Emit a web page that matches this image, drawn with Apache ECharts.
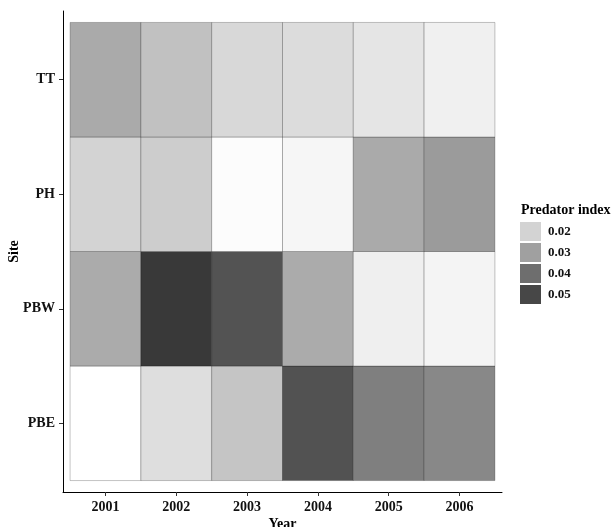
<!DOCTYPE html>
<html>
<head>
<meta charset="utf-8">
<script src="https://cdn.jsdelivr.net/npm/echarts@6/dist/echarts.min.js"></script>
<style>html,body{margin:0;padding:0;background:#fff;}#main{width:614px;height:527px;}</style>
</head>
<body>
<div id="main"></div>
<script>
var years = [2001, 2002, 2003, 2004, 2005, 2006];
var sites = ['PBE', 'PBW', 'PH', 'TT']; // bottom to top
var valTT  = [0.0280, 0.0235, 0.0189, 0.0180, 0.0159, 0.0134];
var valPH  = [0.0200, 0.0212, 0.0107, 0.0120, 0.0280, 0.0310];
var valPBW = [0.0278, 0.0536, 0.0469, 0.0278, 0.0136, 0.0125];
var valPBE = [0.0100, 0.0175, 0.0227, 0.0472, 0.0366, 0.0348];
var legendValues = [0.02, 0.03, 0.04, 0.05];
var legendColors = ['#d3d3d3', '#a0a0a0', '#6e6e6e', '#474747'];
var scaleStops = ['#ffffff', '#d3d3d3', '#a0a0a0', '#6e6e6e', '#474747', '#202020'];

var rows = { PBE: valPBE, PBW: valPBW, PH: valPH, TT: valTT };
var data = [];
sites.forEach(function (s, si) {
  rows[s].forEach(function (v, yi) {
    data.push([years[yi], si + 1, v]);
  });
});

var FONT = 'Liberation Serif';
var chart = echarts.init(document.getElementById('main'));
chart.setOption({
  backgroundColor: '#ffffff',
  animation: false,
  title: {
    text: 'Predator index',
    left: 521, top: 203,
    textStyle: { fontFamily: FONT, fontWeight: 'bold', fontSize: 14, color: '#000' },
    padding: 0
  },
  grid: { left: 63, top: 11, width: 439, height: 481, containLabel: false, outerBoundsMode: 'none' },
  xAxis: {
    type: 'value', min: 2000.4, max: 2006.6,
    name: 'Year', nameLocation: 'middle', nameGap: 25, nameMoveOverlap: false,
    nameTextStyle: { fontFamily: FONT, fontWeight: 'bold', fontSize: 14, color: '#000' },
    axisLine: { show: true, lineStyle: { color: '#000', width: 1 } },
    axisTick: { show: true, length: 4, customValues: years, lineStyle: { color: '#333' } },
    axisLabel: {
      customValues: years, margin: 8,
      fontFamily: FONT, fontWeight: 'bold', fontSize: 14, color: '#111',
      formatter: function (v) { return String(v); }
    },
    splitLine: { show: false }
  },
  yAxis: {
    type: 'value', min: 0.4, max: 4.6,
    name: 'Site', nameLocation: 'middle', nameGap: 42, nameRotate: 90, nameMoveOverlap: false,
    nameTextStyle: { fontFamily: FONT, fontWeight: 'bold', fontSize: 14, color: '#000' },
    axisLine: { show: true, lineStyle: { color: '#000', width: 1 } },
    axisTick: { show: true, length: 4, customValues: [1, 2, 3, 4], lineStyle: { color: '#333' } },
    axisLabel: {
      customValues: [1, 2, 3, 4], margin: 8,
      fontFamily: FONT, fontWeight: 'bold', fontSize: 14, color: '#111',
      formatter: function (v) { return sites[Math.round(v) - 1] || ''; }
    },
    splitLine: { show: false }
  },
  visualMap: [
    {
      type: 'continuous', show: false, seriesIndex: 0, dimension: 2,
      min: 0.01, max: 0.06,
      inRange: { color: scaleStops }
    },
    {
      type: 'piecewise', seriesIndex: 1, orient: 'vertical',
      left: 520, top: 222, align: 'left', inverse: true,
      itemWidth: 21, itemHeight: 19, itemGap: 2, textGap: 7,
      itemSymbol: 'rect',
      pieces: legendValues.map(function (v, i) {
        return { value: v, label: v.toFixed(2), color: legendColors[i] };
      }),
      textStyle: { fontFamily: FONT, fontWeight: 'bold', fontSize: 13, color: '#111' },
      selectedMode: false,
      padding: 0
    }
  ],
  series: [
    {
      type: 'custom',
      data: data,
      encode: { x: 0, y: 1 },
      renderItem: function (params, api) {
        var c = api.coord([api.value(0), api.value(1)]);
        var sz = api.size([1, 1]);
        return {
          type: 'rect',
          shape: { x: c[0] - sz[0] / 2, y: c[1] - sz[1] / 2, width: sz[0], height: sz[1] },
          style: { fill: api.visual('color'), stroke: 'rgba(0,0,0,0.4)', lineWidth: 0.6 }
        };
      }
    },
    {
      type: 'custom', data: [], renderItem: function () { return null; }
    }
  ]
});
</script>
</body>
</html>
